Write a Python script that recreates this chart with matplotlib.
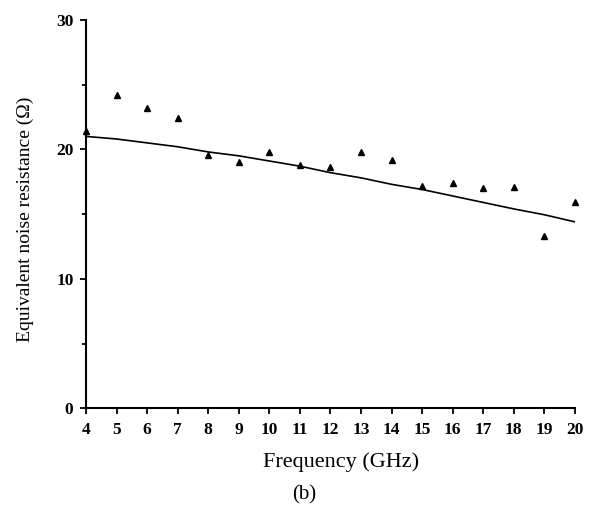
import matplotlib
matplotlib.use("Agg")
import matplotlib.pyplot as plt
import numpy as np

# measured points (triangles)
freq = [4, 5, 6, 7, 8, 9, 10, 11, 12, 13, 14, 15, 16, 17, 18, 19, 20]
rn_meas = [21.4, 24.2, 23.2, 22.4, 19.6, 19.0, 19.8, 18.8, 18.6, 19.8,
           19.2, 17.2, 17.4, 17.0, 17.1, 13.3, 15.9]
# model curve
rn_model = [21.0, 20.8, 20.5, 20.2, 19.8, 19.5, 19.1, 18.7, 18.2, 17.8,
            17.3, 16.9, 16.4, 15.9, 15.4, 14.95, 14.4]

plt.rcParams['font.family'] = ['Liberation Serif', 'DejaVu Serif']

def main():
    fig = plt.figure(figsize=(5.91, 5.08), dpi=100)
    ax = fig.add_axes([0.1455, 0.196, 0.8274, 0.765])
    ax.plot(freq, rn_model, 'k-', lw=1.2)
    ax.plot(freq, rn_meas, 'k^', ms=5, clip_on=False)
    ax.set_xlim(4, 20)
    ax.set_ylim(0, 30)
    ax.set_xticks(np.arange(4, 21, 1))
    ax.set_yticks([0, 10, 20, 30])
    ax.set_yticks([5, 15, 25], minor=True)
    for s in ['top', 'right']:
        ax.spines[s].set_visible(False)
    for s in ['left', 'bottom']:
        ax.spines[s].set_linewidth(1.5)
    ax.tick_params(direction='out', width=1.3, length=4, labelsize=12.5)
    ax.tick_params(axis='x', pad=6)
    ax.tick_params(axis='y', pad=5)
    ax.tick_params(which='minor', direction='out', width=1.3, length=3)
    for lab in ax.get_xticklabels() + ax.get_yticklabels():
        lab.set_fontweight('bold')
    ax.set_xlabel("Frequency (GHz)", fontsize=16, labelpad=10)
    ax.xaxis.label.set_x(0.5215)
    ax.set_ylabel("Equivalent noise resistance (Ω)", fontsize=14, labelpad=16)
    ax.yaxis.label.set_y(0.486)
    fig.text(0.514, 0.0256, "(b)", fontsize=15, ha='center', va='center')
    fig.savefig("out.png", dpi=100)


if __name__ == '__main__':
    main()
